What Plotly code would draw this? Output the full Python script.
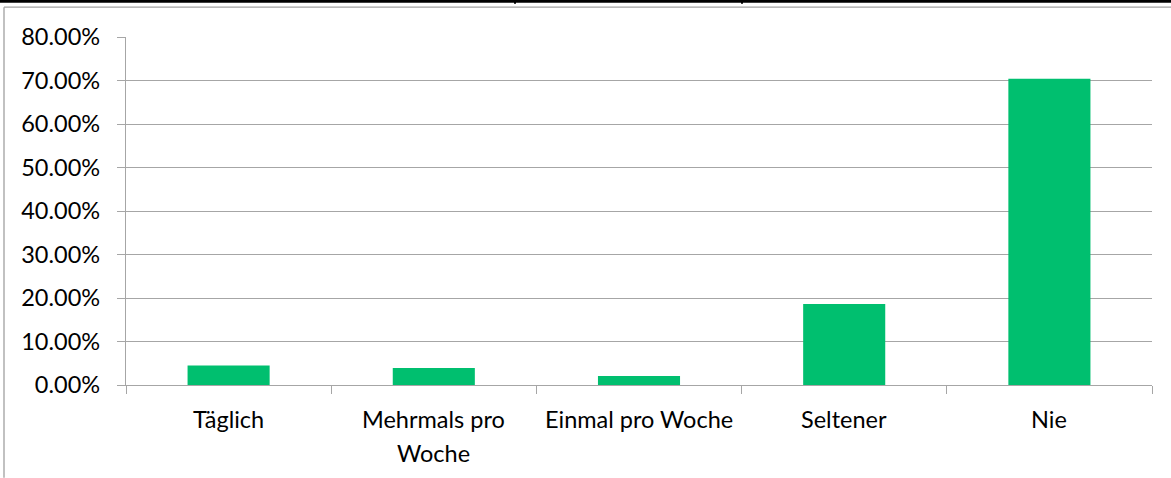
import plotly.graph_objects as go

categories = ["Täglich", "Mehrmals pro Woche", "Einmal pro Woche", "Seltener", "Nie"]
tick_labels = ["Täglich", "Mehrmals pro<br>Woche", "Einmal pro Woche", "Seltener", "Nie"]
values = [0.045, 0.039, 0.0207, 0.186, 0.704]
y_ticks = [0, 0.1, 0.2, 0.3, 0.4, 0.5, 0.6, 0.7, 0.8]

W, H = 1171, 478
L, R, T, B = 126, 19, 37.3, 92.7
pw, ph = W - L - R, H - T - B

def px(x):
    return (x - L) / pw

def py(y):
    return (H - B - y) / ph

FONT = "Lato"
FS = 23.5
GRID = "#A6A6A6"

fig = go.Figure(go.Bar(
    x=categories, y=values,
    marker=dict(color="#00BF6F", line=dict(width=0)),
    hoverinfo="x+y",
))

fig.update_layout(
    width=W, height=H,
    margin=dict(l=L, r=R, t=T, b=B, pad=0),
    paper_bgcolor="white", plot_bgcolor="white",
    bargap=0.6,
    showlegend=False,
    font=dict(family=FONT, size=FS, color="#000000"),
)
fig.update_xaxes(
    type="category",
    tickmode="array", tickvals=categories,
    tickson="boundaries", ticks="outside", ticklen=8, tickcolor=GRID, tickwidth=1.3,
    showline=True, linecolor=GRID, linewidth=1.3,
    showgrid=False, zeroline=False,
    showticklabels=False,
)
fig.update_yaxes(
    range=[0, 0.8],
    tickmode="array", tickvals=y_ticks, tickformat=".2%",
    ticks="outside", ticklen=8, tickcolor=GRID, tickwidth=1.3,
    showline=True, linecolor=GRID, linewidth=1.3,
    showgrid=True, gridcolor=GRID, gridwidth=1.3,
    zeroline=False,
    tickfont=dict(family=FONT, size=FS, color="#000000"),
    ticklabelstandoff=12,
)

# category labels (Excel-style line spacing)
line_offsets = [-34.4, -68.0]
for cat, lab in zip(categories, tick_labels):
    for i, part in enumerate(lab.split("<br>")):
        fig.add_annotation(
            x=cat, y=0, xref="x", yref="y", text=part, showarrow=False,
            xanchor="center", yanchor="middle", yshift=line_offsets[i],
            font=dict(family=FONT, size=FS, color="#000000"),
        )

shapes = [
    dict(type="line", xref="paper", yref="paper", x0=px(0), x1=px(W), y0=py(1.5), y1=py(1.5),
         line=dict(color="black", width=3)),
    dict(type="line", xref="paper", yref="paper", x0=px(515), x1=px(515), y0=py(0), y1=py(4),
         line=dict(color="black", width=2)),
    dict(type="line", xref="paper", yref="paper", x0=px(742), x1=px(742), y0=py(0), y1=py(4),
         line=dict(color="black", width=2)),
    dict(type="line", xref="paper", yref="paper", x0=px(4), x1=px(W), y0=py(7.5), y1=py(7.5),
         line=dict(color="#A0A0A0", width=1.3)),
    dict(type="line", xref="paper", yref="paper", x0=px(4), x1=px(4), y0=py(7.5), y1=py(H),
         line=dict(color="#A0A0A0", width=1.3)),
]
fig.update_layout(shapes=shapes)

fig.write_html(
    "out.html",
    config={"displayModeBar": False},
    post_script="document.body.style.margin='0';document.body.style.overflow='hidden';",
)
